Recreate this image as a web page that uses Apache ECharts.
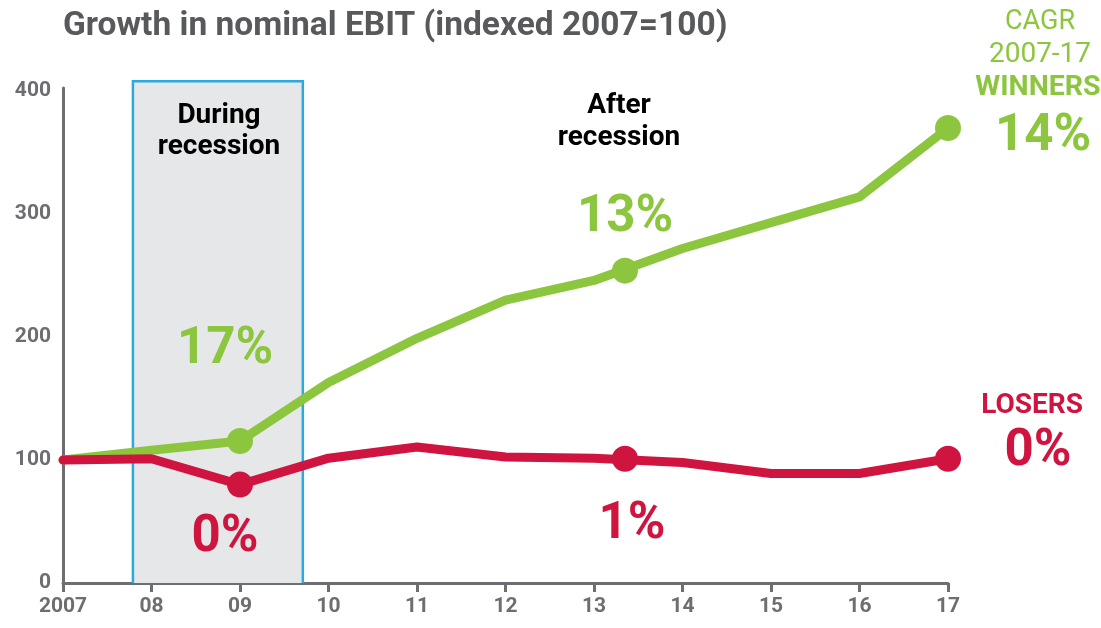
<!DOCTYPE html>
<html><head><meta charset="utf-8">
<script src="https://cdn.jsdelivr.net/npm/echarts@6/dist/echarts.min.js"></script>
<style>html,body{margin:0;padding:0;background:#fff}#c{width:1101px;height:628px}</style>
</head><body><div id="c"></div>
<script>
const years = [2007, 2008, 2009, 2010, 2011, 2012, 2013, 2014, 2015, 2016, 2017];
const tickLabels = ['2007', '08', '09', '10', '11', '12', '13', '14', '15', '16', '17'];
const winners = [100, 108, 115.5, 163, 199, 230, 246, 272, 293, 314, 370];
const losers = [100, 101, 80, 101.5, 110.6, 102.4, 101.5, 98, 89, 89, 101];
const winnerMarkers = [[2009, 115.5], [2013.35, 254], [2017, 370]];
const loserMarkers = [[2009, 80], [2013.35, 101], [2017, 101]];
const recession = [2007.79, 2009.71, 408];

const GREEN = '#8cc63f', RED = '#cf143f', GRAY = '#6d6e71';
const F = 'Roboto';
const chart = echarts.init(document.getElementById('c'));
const txt = (x, y, text, color, size, weight, align) => ({
  type: 'text', x, y, z: 100,
  style: { text, fill: color, font: `${weight} ${size}px ${F}`, textAlign: align || 'center', textVerticalAlign: 'middle' }
});
chart.setOption({
  animation: false,
  grid: { left: 63, right: 153, top: 88, bottom: 45 },
  xAxis: {
    type: 'value', min: 2007, max: 2017, interval: 1,
    axisLine: { lineStyle: { color: GRAY, width: 3 } },
    axisTick: { show: true, length: 9, lineStyle: { color: GRAY, width: 3 } },
    axisLabel: { color: GRAY, fontFamily: F, fontWeight: 'bold', fontSize: 21, margin: 13,
      formatter: v => tickLabels[years.indexOf(Math.round(v))] || '' },
    splitLine: { show: false }
  },
  yAxis: {
    type: 'value', min: 0, max: 402.5, interval: 100,
    axisLine: { show: true, lineStyle: { color: GRAY, width: 3 } },
    axisTick: { show: false },
    axisLabel: { color: GRAY, fontFamily: F, fontWeight: 'bold', fontSize: 21, margin: 12,
      formatter: v => (v % 100 === 0 ? String(v) : '') },
    splitLine: { show: false }
  },
  series: [
    {
      type: 'custom', clip: false, silent: true, z: 1,
      data: [recession],
      renderItem: (params, api) => {
        const p0 = api.coord([api.value(0), 0]);
        const p1 = api.coord([api.value(1), api.value(2)]);
        return {
          type: 'group',
          children: [
            { type: 'rect', shape: { x: p0[0], y: p1[1], width: p1[0] - p0[0], height: p0[1] - p1[1] },
              style: { fill: '#e6e7e8' } },
            { type: 'polyline', shape: { points: [[p0[0], p0[1]], [p0[0], p1[1]], [p1[0], p1[1]], [p1[0], p0[1]]] },
              style: { stroke: '#29abe2', lineWidth: 2.5, fill: 'none' } }
          ]
        };
      }
    },
    {
      type: 'line', data: years.map((y, i) => [y, winners[i]]), showSymbol: false,
      lineStyle: { color: GREEN, width: 9, join: 'round', cap: 'round' }, z: 3
    },
    {
      type: 'line', data: years.map((y, i) => [y, losers[i]]), showSymbol: false,
      lineStyle: { color: RED, width: 9, join: 'round', cap: 'round' }, z: 3
    },
    { type: 'scatter', data: winnerMarkers, symbolSize: 26, itemStyle: { color: GREEN, opacity: 1 }, z: 4 },
    { type: 'scatter', data: loserMarkers, symbolSize: 26, itemStyle: { color: RED, opacity: 1 }, z: 4 }
  ],
  graphic: [
    txt(63, 27, 'Growth in nominal EBIT (indexed 2007=100)', '#58595b', 33.5, 'bold', 'left'),
    txt(219, 116, 'During', '#000', 28, 'bold'),
    txt(219, 147, 'recession', '#000', 28, 'bold'),
    txt(619, 106, 'After', '#000', 28, 'bold'),
    txt(619, 138, 'recession', '#000', 28, 'bold'),
    txt(225, 350, '17%', GREEN, 51, 'bold'),
    txt(625, 218, '13%', GREEN, 51, 'bold'),
    txt(225, 538, '0%', RED, 51, 'bold'),
    txt(632, 525, '1%', RED, 51, 'bold'),
    txt(1040, 22, 'CAGR', GREEN, 27, 'normal'),
    txt(1040, 55, '2007-17', GREEN, 28, 'normal'),
    txt(1038, 88, 'WINNERS', GREEN, 28.5, 'bold'),
    txt(1043, 137, '14%', GREEN, 51, 'bold'),
    txt(1032, 406, 'LOSERS', RED, 28, 'bold'),
    txt(1038, 452, '0%', RED, 51, 'bold')
  ]
});
</script></body></html>
